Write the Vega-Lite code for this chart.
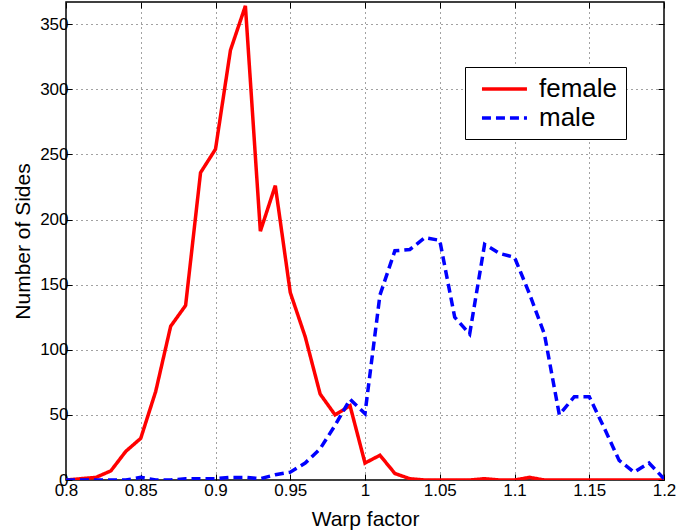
{
  "$schema": "https://vega.github.io/schema/vega-lite/v6.json",
  "width": 598,
  "height": 478,
  "autosize": "none",
  "padding": {"left": 66, "top": 2, "right": 16, "bottom": 52},
  "background": "white",
  "config": {
    "font": "Liberation Sans",
    "view": {"stroke": "black", "strokeWidth": 1.5},
    "axis": {"labelFont": "Liberation Sans", "titleFont": "Liberation Sans", "labelColor": "black", "titleColor": "black", "titleFontWeight": "normal", "domain": false, "tickColor": "black", "tickSize": -6, "tickWidth": 1}
  },
  "data": {"values": [
    {"x": 0.80, "sex": "female", "n": 0}, {"x": 0.81, "sex": "female", "n": 1}, {"x": 0.82, "sex": "female", "n": 2},
    {"x": 0.83, "sex": "female", "n": 7}, {"x": 0.84, "sex": "female", "n": 22}, {"x": 0.85, "sex": "female", "n": 32},
    {"x": 0.86, "sex": "female", "n": 68}, {"x": 0.87, "sex": "female", "n": 118}, {"x": 0.88, "sex": "female", "n": 134},
    {"x": 0.89, "sex": "female", "n": 236}, {"x": 0.90, "sex": "female", "n": 254}, {"x": 0.91, "sex": "female", "n": 330},
    {"x": 0.92, "sex": "female", "n": 364}, {"x": 0.93, "sex": "female", "n": 191}, {"x": 0.94, "sex": "female", "n": 226},
    {"x": 0.95, "sex": "female", "n": 144}, {"x": 0.96, "sex": "female", "n": 110}, {"x": 0.97, "sex": "female", "n": 66},
    {"x": 0.98, "sex": "female", "n": 50}, {"x": 0.99, "sex": "female", "n": 57}, {"x": 1.00, "sex": "female", "n": 13},
    {"x": 1.01, "sex": "female", "n": 19}, {"x": 1.02, "sex": "female", "n": 5}, {"x": 1.03, "sex": "female", "n": 1},
    {"x": 1.04, "sex": "female", "n": 0}, {"x": 1.05, "sex": "female", "n": 0}, {"x": 1.06, "sex": "female", "n": 0},
    {"x": 1.07, "sex": "female", "n": 0}, {"x": 1.08, "sex": "female", "n": 1}, {"x": 1.09, "sex": "female", "n": 0},
    {"x": 1.10, "sex": "female", "n": 0}, {"x": 1.11, "sex": "female", "n": 2}, {"x": 1.12, "sex": "female", "n": 0},
    {"x": 1.13, "sex": "female", "n": 0}, {"x": 1.14, "sex": "female", "n": 0}, {"x": 1.15, "sex": "female", "n": 0},
    {"x": 1.16, "sex": "female", "n": 0}, {"x": 1.17, "sex": "female", "n": 0}, {"x": 1.18, "sex": "female", "n": 0},
    {"x": 1.19, "sex": "female", "n": 0}, {"x": 1.20, "sex": "female", "n": 0},
    {"x": 0.80, "sex": "male", "n": 0}, {"x": 0.81, "sex": "male", "n": 0}, {"x": 0.82, "sex": "male", "n": 0},
    {"x": 0.83, "sex": "male", "n": 0}, {"x": 0.84, "sex": "male", "n": 0}, {"x": 0.85, "sex": "male", "n": 2},
    {"x": 0.86, "sex": "male", "n": 0}, {"x": 0.87, "sex": "male", "n": 0}, {"x": 0.88, "sex": "male", "n": 1},
    {"x": 0.89, "sex": "male", "n": 1}, {"x": 0.90, "sex": "male", "n": 1}, {"x": 0.91, "sex": "male", "n": 2},
    {"x": 0.92, "sex": "male", "n": 2}, {"x": 0.93, "sex": "male", "n": 1}, {"x": 0.94, "sex": "male", "n": 4},
    {"x": 0.95, "sex": "male", "n": 6}, {"x": 0.96, "sex": "male", "n": 13}, {"x": 0.97, "sex": "male", "n": 24},
    {"x": 0.98, "sex": "male", "n": 42}, {"x": 0.99, "sex": "male", "n": 62}, {"x": 1.00, "sex": "male", "n": 51},
    {"x": 1.01, "sex": "male", "n": 142}, {"x": 1.02, "sex": "male", "n": 176}, {"x": 1.03, "sex": "male", "n": 177},
    {"x": 1.04, "sex": "male", "n": 186}, {"x": 1.05, "sex": "male", "n": 184}, {"x": 1.06, "sex": "male", "n": 125},
    {"x": 1.07, "sex": "male", "n": 112}, {"x": 1.08, "sex": "male", "n": 181}, {"x": 1.09, "sex": "male", "n": 174},
    {"x": 1.10, "sex": "male", "n": 171}, {"x": 1.11, "sex": "male", "n": 143}, {"x": 1.12, "sex": "male", "n": 112},
    {"x": 1.13, "sex": "male", "n": 50}, {"x": 1.14, "sex": "male", "n": 64}, {"x": 1.15, "sex": "male", "n": 64},
    {"x": 1.16, "sex": "male", "n": 40}, {"x": 1.17, "sex": "male", "n": 15}, {"x": 1.18, "sex": "male", "n": 6},
    {"x": 1.19, "sex": "male", "n": 13}, {"x": 1.20, "sex": "male", "n": 1}
  ]},
  "layer": [
    {
      "mark": {"type": "line", "strokeWidth": 3.5, "clip": true},
      "encoding": {
        "x": {"field": "x", "type": "quantitative", "scale": {"domain": [0.8, 1.2], "nice": false, "zero": false},
          "axis": {"orient": "bottom", "values": [0.8, 0.85, 0.9, 0.95, 1, 1.05, 1.1, 1.15, 1.2], "format": "~g", "labelFontSize": 17, "labelPadding": 8, "labelFlush": false, "grid": true, "gridColor": "#444", "gridDash": [1, 4], "gridWidth": 1, "title": "Warp factor", "titleFontSize": 21, "titlePadding": 10}},
        "y": {"field": "n", "type": "quantitative", "scale": {"domain": [0, 367], "nice": false},
          "axis": {"orient": "left", "values": [0, 50, 100, 150, 200, 250, 300, 350], "labelFontSize": 17, "labelPadding": 4, "labelFlush": false, "grid": true, "gridColor": "#444", "gridDash": [1, 4], "gridWidth": 1, "title": "Number of Sides", "titleFontSize": 21, "titlePadding": 6}},
        "color": {"field": "sex", "type": "nominal", "scale": {"domain": ["female", "male"], "range": ["#ff0000", "#0000ff"]},
          "legend": {"orient": "none", "legendX": 399, "legendY": 65, "title": null, "symbolType": "M-0.42,0L3.33,0", "symbolSize": 576, "symbolStrokeWidth": 3.5, "labelFontSize": 26, "labelColor": "black", "fillColor": "white", "strokeColor": "black", "padding": 8, "rowPadding": 2, "labelOffset": 38}},
        "strokeDash": {"field": "sex", "type": "nominal", "scale": {"domain": ["female", "male"], "range": [[1, 0], [9, 5]]}, "legend": null}
      }
    },
    {
      "mark": {"type": "line", "opacity": 0},
      "encoding": {
        "x": {"field": "x", "type": "quantitative", "scale": {"domain": [0.8, 1.2], "nice": false, "zero": false},
          "axis": {"orient": "top", "values": [0.8, 0.85, 0.9, 0.95, 1, 1.05, 1.1, 1.15, 1.2], "labels": false, "grid": false, "title": null}},
        "y": {"field": "n", "type": "quantitative", "scale": {"domain": [0, 367], "nice": false},
          "axis": {"orient": "right", "values": [0, 50, 100, 150, 200, 250, 300, 350], "labels": false, "grid": false, "title": null}},
        "detail": {"field": "sex"}
      }
    }
  ],
  "resolve": {"axis": {"x": "independent", "y": "independent"}}
}
